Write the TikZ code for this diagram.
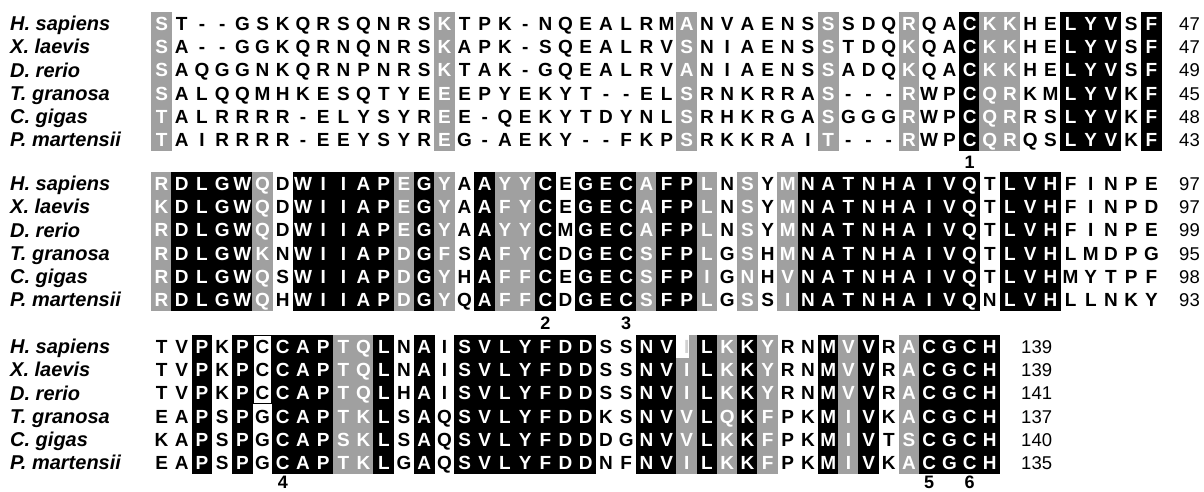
\documentclass[tikz,border=0pt]{standalone}
\usepackage{fontspec}
\setmainfont{Liberation Sans}
\definecolor{shgrey}{RGB}{160,160,160}
\tikzset{
  seqtxt/.style={inner sep=0pt, anchor=base, font=\fontsize{19}{21}\selectfont\bfseries},
  nametxt/.style={inner sep=0pt, anchor=base west, font=\fontsize{20}{22}\selectfont\bfseries\itshape},
  numR/.style={inner sep=0pt, anchor=base east, font=\fontsize{18.5}{20}\selectfont},
  numL/.style={inner sep=0pt, anchor=base west, font=\fontsize{18.5}{20}\selectfont},
  marktxt/.style={inner sep=0pt, anchor=base, font=\fontsize{18}{20}\selectfont\bfseries},
  boxline/.style={draw=black, line width=1.2pt},
}
\def\xo{151.5}
\def\colw{20.2}
\def\rowh{23.2}
\def\capoff{6.8}
\def\typesA{{1,0,0,0,0,0,0,0,0,0,0,0,0,0,1,0,0,0,0,0,0,0,0,0,0,0,1,0,0,0,0,0,0,1,0,0,0,1,0,0,2,1,1,0,0,2,2,2,0,2}}
\def\typesB{{1,2,2,2,2,1,0,2,2,2,2,2,1,2,1,0,2,1,1,2,0,2,2,2,1,2,2,1,0,1,0,1,2,2,2,2,2,2,2,2,2,0,2,2,2,0,0,0,0,0}}
\def\typesC{{0,0,2,0,2,0,2,2,2,1,1,2,0,2,0,2,2,2,2,2,2,2,0,0,2,2,1,2,1,2,1,0,0,2,1,2,0,1,2,2,2,2}}
% #1 block id, #2 row, #3 block top, #4 types, #5 letters
\newcommand\seqrow[5]{%
  \foreach \c [count=\i] in {#5} {%
    \pgfmathtruncatemacro\ctype{#4[\i-1]}%
    \ifnum\ctype=0 \def\tcol{black}\else\def\tcol{white}\fi
    \node[seqtxt, text=\tcol] (s#1-#2-\i) at ({\xo+(\i-0.5)*\colw}, {#3+(#2-0.5)*\rowh+\capoff}) {\c};
  }%
}
% #1 types, #2 ncols, #3 top
\newcommand\shadeblock[3]{%
  \foreach \i in {1,...,#2} {%
    \pgfmathtruncatemacro\ctype{#1[\i-1]}%
    \ifnum\ctype=1 \fill[shgrey] ({\xo+(\i-1)*\colw-0.3},#3) rectangle ({\xo+\i*\colw+0.3},{#3+6*\rowh});\fi
    \ifnum\ctype=2 \fill[black] ({\xo+(\i-1)*\colw-0.3},#3) rectangle ({\xo+\i*\colw+0.3},{#3+6*\rowh});\fi
  }%
}
\newcommand\names[2]{% #1 block id, #2 top
  \node[nametxt] (n#1-1) at (10,{#2+0.5*\rowh+7.1}) {H. sapiens};
  \node[nametxt] (n#1-2) at (10,{#2+1.5*\rowh+7.1}) {X. laevis};
  \node[nametxt] (n#1-3) at (10,{#2+2.5*\rowh+7.1}) {D. rerio};
  \node[nametxt] (n#1-4) at (10,{#2+3.5*\rowh+7.1}) {T. granosa};
  \node[nametxt] (n#1-5) at (10,{#2+4.5*\rowh+7.1}) {C. gigas};
  \node[nametxt] (n#1-6) at (10,{#2+5.5*\rowh+7.1}) {P. martensii};
}
\begin{document}
\begin{tikzpicture}[x=1pt,y=-1pt]
\useasboundingbox[fill=white] (0,0) rectangle (1204,491);
% ---------- block 1 ----------
\def\topA{12}
\shadeblock{\typesA}{50}{\topA}
\names{1}{\topA}
\seqrow{1}{1}{\topA}{\typesA}{S,T,-,-,G,S,K,Q,R,S,Q,N,R,S,K,T,P,K,-,N,Q,E,A,L,R,M,A,N,V,A,E,N,S,S,S,D,Q,R,Q,A,C,K,K,H,E,L,Y,V,S,F}
\seqrow{1}{2}{\topA}{\typesA}{S,A,-,-,G,G,K,Q,R,N,Q,N,R,S,K,A,P,K,-,S,Q,E,A,L,R,V,S,N,I,A,E,N,S,S,T,D,Q,K,Q,A,C,K,K,H,E,L,Y,V,S,F}
\seqrow{1}{3}{\topA}{\typesA}{S,A,Q,G,G,N,K,Q,R,N,P,N,R,S,K,T,A,K,-,G,Q,E,A,L,R,V,A,N,I,A,E,N,S,S,A,D,Q,K,Q,A,C,K,K,H,E,L,Y,V,S,F}
\seqrow{1}{4}{\topA}{\typesA}{S,A,L,Q,Q,M,H,K,E,S,Q,T,Y,E,E,E,P,Y,E,K,Y,T,-,-,E,L,S,R,N,K,R,R,A,S,-,-,-,R,W,P,C,Q,R,K,M,L,Y,V,K,F}
\seqrow{1}{5}{\topA}{\typesA}{T,A,L,R,R,R,R,-,E,L,Y,S,Y,R,E,E,-,Q,E,K,Y,T,D,Y,N,L,S,R,H,K,R,G,A,S,G,G,G,R,W,P,C,Q,R,R,S,L,Y,V,K,F}
\seqrow{1}{6}{\topA}{\typesA}{T,A,I,R,R,R,R,-,E,E,Y,S,Y,R,E,G,-,A,E,K,Y,-,-,F,K,P,S,R,K,K,R,A,I,T,-,-,-,R,W,P,C,Q,R,Q,S,L,Y,V,K,F}
\foreach \v [count=\r] in {47,47,49,45,48,43}
  \node[numR] (e1-\r) at (1200,{\topA+(\r-0.5)*\rowh+\capoff}) {\v};
\node[marktxt] (m1) at ({\xo+40.5*\colw},168.4) {1};
% ---------- block 2 ----------
\def\topB{172}
\shadeblock{\typesB}{50}{\topB}
\names{2}{\topB}
\seqrow{2}{1}{\topB}{\typesB}{R,D,L,G,W,Q,D,W,I,I,A,P,E,G,Y,A,A,Y,Y,C,E,G,E,C,A,F,P,L,N,S,Y,M,N,A,T,N,H,A,I,V,Q,T,L,V,H,F,I,N,P,E}
\seqrow{2}{2}{\topB}{\typesB}{K,D,L,G,W,Q,D,W,I,I,A,P,E,G,Y,A,A,F,Y,C,E,G,E,C,A,F,P,L,N,S,Y,M,N,A,T,N,H,A,I,V,Q,T,L,V,H,F,I,N,P,D}
\seqrow{2}{3}{\topB}{\typesB}{R,D,L,G,W,Q,D,W,I,I,A,P,E,G,Y,A,A,Y,Y,C,M,G,E,C,A,F,P,L,N,S,Y,M,N,A,T,N,H,A,I,V,Q,T,L,V,H,F,I,N,P,E}
\seqrow{2}{4}{\topB}{\typesB}{R,D,L,G,W,K,N,W,I,I,A,P,D,G,F,S,A,F,Y,C,D,G,E,C,S,F,P,L,G,S,H,M,N,A,T,N,H,A,I,V,Q,T,L,V,H,L,M,D,P,G}
\seqrow{2}{5}{\topB}{\typesB}{R,D,L,G,W,Q,S,W,I,I,A,P,D,G,Y,H,A,F,F,C,E,G,E,C,S,F,P,I,G,N,H,V,N,A,T,N,H,A,I,V,Q,T,L,V,H,M,Y,T,P,F}
\seqrow{2}{6}{\topB}{\typesB}{R,D,L,G,W,Q,H,W,I,I,A,P,D,G,Y,Q,A,F,F,C,D,G,E,C,S,F,P,L,G,S,S,I,N,A,T,N,H,A,I,V,Q,N,L,V,H,L,L,N,K,Y}
\foreach \v [count=\r] in {97,97,99,95,98,93}
  \node[numR] (e2-\r) at (1200,{\topB+(\r-0.5)*\rowh+\capoff}) {\v};
\node[marktxt] (m2) at ({\xo+19.5*\colw},329.4) {2};
\node[marktxt] (m3) at ({\xo+23.5*\colw},329.4) {3};
% ---------- block 3 ----------
\def\topC{335}
\shadeblock{\typesC}{42}{\topC}
\fill[white] ({\xo+26*\colw-0.3},{\topC-0.5}) rectangle ({\xo+26*\colw+12},{\topC+\rowh});
\draw[boxline] ({\xo+5*\colw+0.8},{\topC+0.6}) rectangle ({\xo+6*\colw-0.8},{\topC+3*\rowh-0.8});
\names{3}{\topC}
\seqrow{3}{1}{\topC}{\typesC}{T,V,P,K,P,C,C,A,P,T,Q,L,N,A,I,S,V,L,Y,F,D,D,S,S,N,V,{},L,K,K,Y,R,N,M,V,V,R,A,C,G,C,H}
\seqrow{3}{2}{\topC}{\typesC}{T,V,P,K,P,C,C,A,P,T,Q,L,N,A,I,S,V,L,Y,F,D,D,S,S,N,V,I,L,K,K,Y,R,N,M,V,V,R,A,C,G,C,H}
\seqrow{3}{3}{\topC}{\typesC}{T,V,P,K,P,C,C,A,P,T,Q,L,H,A,I,S,V,L,Y,F,D,D,S,S,N,V,I,L,K,K,Y,R,N,M,V,V,R,A,C,G,C,H}
\seqrow{3}{4}{\topC}{\typesC}{E,A,P,S,P,G,C,A,P,T,K,L,S,A,Q,S,V,L,Y,F,D,D,K,S,N,V,V,L,Q,K,F,P,K,M,I,V,K,A,C,G,C,H}
\seqrow{3}{5}{\topC}{\typesC}{K,A,P,S,P,G,C,A,P,S,K,L,S,A,Q,S,V,L,Y,F,D,D,D,G,N,V,V,L,K,K,F,P,K,M,I,V,T,S,C,G,C,H}
\seqrow{3}{6}{\topC}{\typesC}{E,A,P,S,P,G,C,A,P,T,K,L,G,A,Q,S,V,L,Y,F,D,D,N,F,N,V,I,L,K,K,F,P,K,M,I,V,K,A,C,G,C,H}
\node[seqtxt, text=black!18] (s3-1-27b) at ({\xo+26.5*\colw},{\topC+0.5*\rowh+\capoff}) {I};
\foreach \v [count=\r] in {139,139,141,137,140,135}
  \node[numL] (e3-\r) at (1021,{\topC+(\r-0.5)*\rowh+\capoff}) {\v};
\node[marktxt] (m4) at ({\xo+6.5*\colw},488) {4};
\node[marktxt] (m5) at ({\xo+38.5*\colw},488) {5};
\node[marktxt] (m6) at ({\xo+40.5*\colw},488) {6};
\end{tikzpicture}
\end{document}
